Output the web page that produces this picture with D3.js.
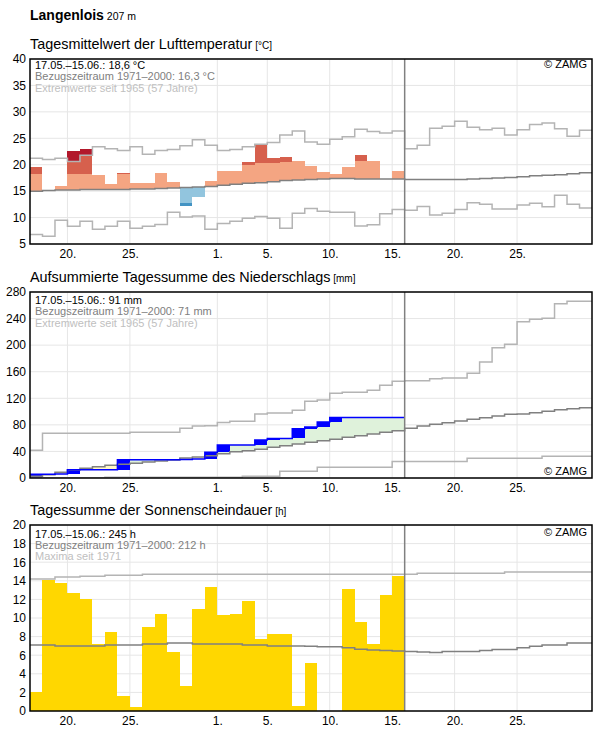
<!DOCTYPE html>
<html>
<head>
<meta charset="utf-8">
<script src="https://cdn.jsdelivr.net/npm/d3@7"></script>
<style>
  body { margin: 0; background: #fff; }
  text { font-family: Arial, "Liberation Sans", sans-serif; }
</style>
</head>
<body>
<svg id="chart" width="596" height="729"></svg>
<script>
"use strict";

// period shown: 17.05. - 30.06. (45 days), measured period 17.05. - 15.06. (30 days)
var startDay = "2022-05-17",
    endDay = "2022-07-01",
    todayDay = "2022-06-16";

var tickDays = ["2022-05-20", "2022-05-25", "2022-06-01", "2022-06-05",
                "2022-06-10", "2022-06-15", "2022-06-20", "2022-06-25"];

// --- Lufttemperatur [°C] ---
var tempObs = [19.6, 15.2, 16.0, 22.6, 23.0, 18.0, 16.3, 18.4, 16.5, 16.5,
               18.4, 16.7, 12.2, 13.9, 16.9, 18.9, 18.9, 20.5, 23.8, 21.3,
               21.4, 20.7, 19.8, 18.6, 18.3, 19.6, 21.8, 20.7, 17.3, 18.8];
var tempHot = [18.2, 18.2, 18.2, 18.2, 18.2, 18.2, 18.2, 18.2, 18.5, 18.6,
               18.6, 18.7, 18.8, 19.0, 19.2, 19.4, 19.6, 19.95, 20.4, 20.4,
               20.6, 20.8, 20.7, 20.7, 20.7, 20.7, 20.7, 20.8, 20.7, 20.6];
var tempCold = [12.0, 12.1, 12.2, 12.2, 12.3, 12.3, 12.3, 12.4, 12.5, 12.5,
                12.6, 12.7, 12.75, 12.8, 12.9, 13.1, 13.3, 13.5, 13.6, 13.8,
                14.0, 14.1, 14.2, 14.3, 14.4, 14.4, 14.3, 14.3, 14.3, 14.3];
var tempMean = [15.0, 15.1, 15.2, 15.2, 15.3, 15.3, 15.3, 15.3, 15.4, 15.4,
                15.5, 15.6, 15.7, 15.8, 15.9, 16.1, 16.3, 16.5, 16.6, 16.8,
                17.0, 17.1, 17.2, 17.3, 17.4, 17.4, 17.3, 17.3, 17.3, 17.3,
                17.2, 17.2, 17.2, 17.2, 17.2, 17.3, 17.4, 17.5, 17.6, 17.7,
                17.9, 18.0, 18.1, 18.3, 18.5];
var tempMax = [21.2, 21.0, 21.2, 20.6, 21.8, 23.4, 23.0, 22.7, 23.4, 22.0,
               22.7, 22.9, 23.6, 24.7, 23.7, 22.7, 22.9, 23.4, 23.85, 24.2,
               25.6, 26.4, 24.3, 23.85, 24.8, 25.3, 26.7, 26.3, 26.0, 26.4,
               23.0, 23.7, 26.9, 27.3, 28.2, 27.1, 26.6, 26.9, 25.6, 26.6,
               27.6, 27.9, 26.8, 25.4, 26.5];
var tempMin = [6.8, 6.45, 9.5, 8.35, 9.3, 7.8, 8.35, 9.3, 8.0, 8.35,
               8.7, 11.0, 10.1, 10.3, 7.8, 8.9, 9.3, 9.85, 10.2, 9.85,
               8.0, 10.8, 11.7, 11.2, 11.0, 11.0, 8.4, 8.65, 10.7, 11.55,
               11.4, 12.1, 10.5, 10.8, 11.55, 12.8, 12.5, 11.6, 11.6, 12.4,
               12.7, 12.05, 14.2, 12.5, 11.8];

// --- Niederschlag, aufsummiert [mm] ---
var precObs = [5.6, 5.6, 6.2, 12.5, 12.5, 12.5, 12.5, 27.5, 27.5, 27.5,
               27.5, 27.5, 28.0, 28.5, 38.6, 49.7, 49.7, 49.7, 57.2, 59.5,
               59.5, 74.0, 76.8, 84.3, 91.0, 91.0, 91.0, 91.0, 91.0, 91.0];
var precMean = [2.5, 5.0, 8.5, 12.0, 14.6, 17.1, 19.1, 20.6, 22.1, 24.1,
                25.6, 27.1, 30.1, 31.6, 33.6, 36.6, 39.6, 41.1, 43.2, 46.2,
                48.6, 51.2, 53.7, 56.2, 58.2, 61.2, 63.7, 66.2, 68.7, 71.2,
                74.8, 78.3, 80.8, 83.3, 85.8, 88.3, 90.8, 93.3, 95.8, 96.3,
                98.3, 100.4, 102.9, 104.4, 105.9];
var precMax = [41.6, 67.2, 67.2, 67.2, 67.2, 67.2, 67.2, 67.2, 68.7, 68.7,
               68.7, 68.7, 74.8, 78.3, 78.8, 83.5, 85.5, 85.5, 96.3, 97.8,
               97.8, 101.9, 115.4, 117.4, 127.5, 129.0, 129.0, 132.0, 139.5, 145.5,
               146.5, 146.5, 149.5, 150.5, 150.5, 157.6, 174.6, 196.2, 201.2, 235.3,
               238.9, 240.4, 262.4, 266.0, 266.0];
var precMin = [0, 0, 0, 0, 0, 0, 1.2, 1.2, 1.2, 1.2,
               1.2, 1.2, 1.2, 1.2, 1.2, 1.2, 1.2, 2.8, 2.8, 2.8,
               10.0, 10.0, 10.0, 16.3, 16.3, 16.3, 16.3, 16.3, 16.3, 25.0,
               25.0, 25.0, 25.0, 25.0, 25.0, 29.6, 29.6, 29.6, 29.6, 29.6,
               29.6, 32.6, 32.6, 32.6, 32.6];

// --- Sonnenscheindauer [h] ---
var sunObs = [2.0, 14.1, 13.8, 12.7, 12.0, 7.2, 8.5, 1.6, 0.4, 9.0,
              10.4, 6.3, 2.7, 11.0, 13.3, 10.3, 10.4, 11.8, 7.7, 8.3,
              8.3, 0.5, 5.2, 0, 0, 13.1, 9.6, 7.2, 12.5, 14.5];
var sunMean = [7.1, 7.1, 7.0, 7.0, 7.0, 7.0, 7.1, 7.1, 7.1, 7.2,
               7.2, 7.3, 7.3, 7.2, 7.2, 7.2, 7.2, 7.1, 7.1, 7.0,
               7.0, 7.0, 6.95, 6.9, 6.9, 6.8, 6.65, 6.55, 6.5, 6.45,
               6.4, 6.35, 6.3, 6.4, 6.4, 6.4, 6.5, 6.6, 6.6, 6.8,
               6.95, 7.1, 7.1, 7.3, 7.3];
var sunMax = [14.2, 14.2, 14.4, 14.4, 14.5, 14.5, 14.6, 14.6, 14.6, 14.7,
              14.7, 14.7, 14.7, 14.7, 14.7, 14.7, 14.7, 14.7, 14.7, 14.7,
              14.7, 14.7, 14.7, 14.7, 14.7, 14.7, 14.7, 14.7, 14.7, 14.7,
              14.7, 14.8, 14.8, 14.8, 14.8, 14.8, 14.8, 14.8, 14.95, 14.95,
              14.95, 14.95, 14.95, 14.95, 14.95];

var svg = d3.select("#chart");
var parseDay = d3.utcParse("%Y-%m-%d");
var start = parseDay(startDay);

var x = d3.scaleUtc()
  .domain([start, parseDay(endDay)])
  .range([30, 592]);

function dayX(i){ return x(d3.utcDay.offset(start, i)); }

var GRID = "#e6e6e6", MEAN = "#808080", EXTREME = "#b4b4b4";

// header
var head = svg.append("text").attr("x", 30).attr("y", 20);
head.append("tspan").attr("font-size", 14).attr("font-weight", "bold").text("Langenlois");
head.append("tspan").attr("font-size", 10.5).text(" 207 m");

function drawPanel(cfg){
  var y = d3.scaleLinear().domain(cfg.domain).range([cfg.bottom, cfg.top]);
  var g = svg.append("g");
  var clipId = "clip" + cfg.top;

  g.append("clipPath").attr("id", clipId)
    .append("rect")
    .attr("x", 30).attr("y", cfg.top)
    .attr("width", 562).attr("height", cfg.bottom - cfg.top);

  var title = g.append("text").attr("x", 30).attr("y", cfg.top - 10);
  title.append("tspan").attr("font-size", 14.4).text(cfg.title);
  title.append("tspan").attr("font-size", 10).text(" [" + cfg.unit + "]");

  // grid
  g.append("g").selectAll("line").data(cfg.ticks).join("line")
    .attr("x1", 30).attr("x2", 592)
    .attr("y1", function(d){ return y(d); }).attr("y2", function(d){ return y(d); })
    .attr("stroke", GRID).attr("stroke-width", 1);
  g.append("g").selectAll("line").data(tickDays).join("line")
    .attr("x1", function(d){ return x(parseDay(d)); })
    .attr("x2", function(d){ return x(parseDay(d)); })
    .attr("y1", cfg.top).attr("y2", cfg.bottom)
    .attr("stroke", GRID).attr("stroke-width", 1);

  // axes labels (no tick marks)
  var yAxis = d3.axisLeft(y).tickValues(cfg.ticks).tickSize(0).tickPadding(4);
  g.append("g").attr("transform", "translate(30,0)").call(yAxis)
    .call(function(a){ a.select(".domain").remove(); })
    .selectAll("text").attr("font-size", 12).attr("fill", "#000")
    .attr("font-family", "Arial, 'Liberation Sans', sans-serif");

  var xAxis = d3.axisBottom(x).tickValues(tickDays.map(parseDay))
    .tickFormat(d3.utcFormat("%-d.")).tickSize(0).tickPadding(5);
  g.append("g").attr("transform", "translate(0," + cfg.bottom + ")").call(xAxis)
    .call(function(a){ a.select(".domain").remove(); })
    .selectAll("text").attr("font-size", 12).attr("fill", "#000")
    .attr("font-family", "Arial, 'Liberation Sans', sans-serif");

  var plot = g.append("g").attr("clip-path", "url(#" + clipId + ")");
  var over = g.append("g");

  return {y: y, plot: plot, over: over, cfg: cfg};
}

function finishPanel(p){
  var cfg = p.cfg;
  // today line
  p.over.append("line")
    .attr("x1", x(parseDay(todayDay))).attr("x2", x(parseDay(todayDay)))
    .attr("y1", cfg.top).attr("y2", cfg.bottom)
    .attr("stroke", MEAN).attr("stroke-width", 1.5);
  // frame
  p.over.append("rect")
    .attr("x", 30).attr("y", cfg.top)
    .attr("width", 562).attr("height", cfg.bottom - cfg.top)
    .attr("fill", "none").attr("stroke", "#000").attr("stroke-width", 1.5);

  var colors = ["#000", "#808080", "#c0c0c0"];
  p.over.selectAll(".legend").data(cfg.legend).join("text")
    .attr("class", "legend")
    .attr("x", 35)
    .attr("y", function(d, i){ return cfg.top + cfg.legendOffset + i * 11.3; })
    .attr("font-size", 11)
    .attr("fill", function(d, i){ return colors[i]; })
    .text(function(d){ return d; });

  p.over.append("text")
    .attr("x", 587)
    .attr("y", cfg.zamgY)
    .attr("text-anchor", "end")
    .attr("font-size", 11)
    .text("\u00a9 ZAMG");
}

function stepLine(p, values, color, width){
  var pts = values.map(function(v, i){ return [i, v]; });
  pts.push([values.length, values[values.length - 1]]);
  var line = d3.line()
    .x(function(d){ return dayX(d[0]); })
    .y(function(d){ return p.y(d[1]); })
    .curve(d3.curveStepAfter);
  p.plot.append("path")
    .attr("d", line(pts))
    .attr("fill", "none")
    .attr("stroke", color)
    .attr("stroke-width", width);
}

function drawRects(p, segs){
  p.plot.append("g").selectAll("rect").data(segs).join("rect")
    .attr("x", function(d){ return dayX(d.i); })
    .attr("width", function(d){ return dayX(d.i + 1) - dayX(d.i); })
    .attr("y", function(d){ return p.y(Math.max(d.a, d.b)); })
    .attr("height", function(d){ return Math.abs(p.y(d.a) - p.y(d.b)); })
    .attr("fill", function(d){ return d.c; })
    .attr("shape-rendering", "crispEdges");
}

// ---------- panel 1: temperature ----------
var p1 = drawPanel({
  top: 59, bottom: 244, domain: [5, 40], ticks: [5, 10, 15, 20, 25, 30, 35, 40],
  title: "Tagesmittelwert der Lufttemperatur", unit: "\u00b0C",
  legend: ["17.05.\u201315.06.: 18,6 \u00b0C", "Bezugszeitraum 1971\u20132000: 16,3 \u00b0C",
           "Extremwerte seit 1965 (57 Jahre)"],
  legendOffset: 10, zamgY: 68
});

var tempSegs = [];
tempObs.forEach(function(v, i){
  var m = tempMean[i], hi = tempMax[i], lo = tempMin[i], h = tempHot[i], c = tempCold[i];
  if(v >= m){
    tempSegs.push({i: i, a: m, b: Math.min(v, h), c: "#f4a582"});
    if(v > h) tempSegs.push({i: i, a: h, b: Math.min(v, Math.max(hi, h)), c: "#d6604d"});
    if(v > hi) tempSegs.push({i: i, a: Math.max(hi, h), b: v, c: "#b2182b"});
  } else {
    tempSegs.push({i: i, a: m, b: Math.max(v, c), c: "#92c5de"});
    if(v < c) tempSegs.push({i: i, a: c, b: Math.max(v, Math.min(lo, c)), c: "#4393c3"});
    if(v < lo) tempSegs.push({i: i, a: Math.min(lo, c), b: v, c: "#2166ac"});
  }
});
drawRects(p1, tempSegs);
stepLine(p1, tempMax, EXTREME, 1.5);
stepLine(p1, tempMin, EXTREME, 1.5);
stepLine(p1, tempMean, MEAN, 1.5);
finishPanel(p1);

// ---------- panel 2: precipitation ----------
var p2 = drawPanel({
  top: 292, bottom: 478, domain: [0, 280], ticks: [0, 40, 80, 120, 160, 200, 240, 280],
  title: "Aufsummierte Tagessumme des Niederschlags", unit: "mm",
  legend: ["17.05.\u201315.06.: 91 mm", "Bezugszeitraum 1971\u20132000: 71 mm",
           "Extremwerte seit 1965 (57 Jahre)"],
  legendOffset: 12, zamgY: 475
});

var precFill = precObs.map(function(v, i){
  return {i: i, a: precMean[i], b: v, c: v >= precMean[i] ? "#dff2db" : "#fff7c6"};
});
drawRects(p2, precFill);
var precDaily = [];
precObs.forEach(function(v, i){
  var prev = i === 0 ? 0 : precObs[i - 1];
  if(v - prev > 0.2) precDaily.push({i: i, a: prev, b: v, c: "#0000ff"});
});
drawRects(p2, precDaily);
stepLine(p2, precMax, EXTREME, 1.5);
stepLine(p2, precMin, EXTREME, 1.5);
stepLine(p2, precMean, MEAN, 1.5);
stepLine(p2, precObs, "#0000ff", 1.5);
finishPanel(p2);

// ---------- panel 3: sunshine ----------
var p3 = drawPanel({
  top: 525, bottom: 711, domain: [0, 20], ticks: d3.range(0, 21, 2),
  title: "Tagessumme der Sonnenscheindauer", unit: "h",
  legend: ["17.05.\u201315.06.: 245 h", "Bezugszeitraum 1971\u20132000: 212 h", "Maxima seit 1971"],
  legendOffset: 12.5, zamgY: 536
});

drawRects(p3, sunObs.map(function(v, i){ return {i: i, a: 0, b: v, c: "#ffd700"}; }));
stepLine(p3, sunMax, EXTREME, 1.5);
stepLine(p3, sunMean, MEAN, 1.5);
finishPanel(p3);
</script>
</body>
</html>
